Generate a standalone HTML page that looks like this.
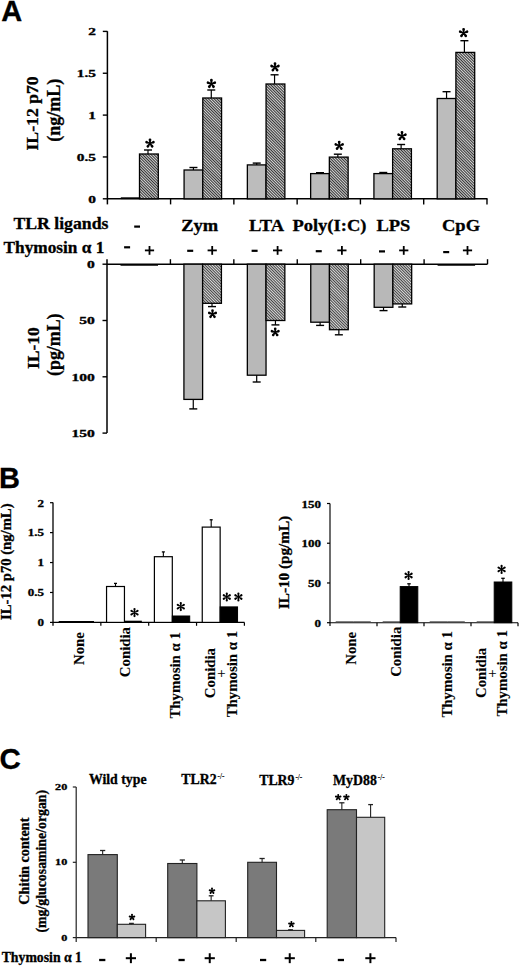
<!DOCTYPE html>
<html><head><meta charset="utf-8"><style>html,body{margin:0;padding:0;background:#fff;}svg{display:block}text{stroke:#000;stroke-width:0.3px;}</style></head>
<body><svg width="520" height="966" viewBox="0 0 520 966"><defs>
<pattern id="hatch" patternUnits="userSpaceOnUse" width="2" height="2" patternTransform="rotate(45)"><rect width="2" height="2" fill="#d4d4d4"/><rect y="0" width="2" height="0.95" fill="#2a2a2a"/></pattern>
<pattern id="hatch2" patternUnits="userSpaceOnUse" width="2" height="2" patternTransform="rotate(45)"><rect width="2" height="2" fill="#dadada"/><rect y="0" width="2" height="0.9" fill="#333"/></pattern>
<pattern id="gray" patternUnits="userSpaceOnUse" width="4" height="4"><rect width="4" height="4" fill="#bcbcbc"/></pattern>
</defs>
<rect width="520" height="966" fill="#fff"/>
<text x="1.2" y="20.8" font-family="Liberation Sans" font-weight="bold" font-size="29" text-anchor="start">A</text>
<text x="-1.1" y="487.7" font-family="Liberation Sans" font-weight="bold" font-size="29" text-anchor="start">B</text>
<text x="-0.6" y="768.6" font-family="Liberation Sans" font-weight="bold" font-size="29.5" text-anchor="start">C</text>
<line x1="107.4" y1="31.2" x2="107.4" y2="204.4" stroke="#000" stroke-width="1.5" stroke-linecap="butt"/>
<line x1="102.8" y1="31.4" x2="107.4" y2="31.4" stroke="#000" stroke-width="1.4" stroke-linecap="butt"/>
<text x="0" y="0" font-family="Liberation Serif" font-weight="bold" font-size="9.6" text-anchor="end" transform="translate(96,35.4) scale(1.6,1)">2</text>
<line x1="102.8" y1="73.25" x2="107.4" y2="73.25" stroke="#000" stroke-width="1.4" stroke-linecap="butt"/>
<text x="0" y="0" font-family="Liberation Serif" font-weight="bold" font-size="9.6" text-anchor="end" transform="translate(96,77.25) scale(1.6,1)">1.5</text>
<line x1="102.8" y1="115.1" x2="107.4" y2="115.1" stroke="#000" stroke-width="1.4" stroke-linecap="butt"/>
<text x="0" y="0" font-family="Liberation Serif" font-weight="bold" font-size="9.6" text-anchor="end" transform="translate(96,119.1) scale(1.6,1)">1</text>
<line x1="102.8" y1="156.95" x2="107.4" y2="156.95" stroke="#000" stroke-width="1.4" stroke-linecap="butt"/>
<text x="0" y="0" font-family="Liberation Serif" font-weight="bold" font-size="9.6" text-anchor="end" transform="translate(96,160.95) scale(1.6,1)">0.5</text>
<line x1="102.8" y1="198.8" x2="107.4" y2="198.8" stroke="#000" stroke-width="1.4" stroke-linecap="butt"/>
<text x="0" y="0" font-family="Liberation Serif" font-weight="bold" font-size="9.6" text-anchor="end" transform="translate(96,202.8) scale(1.6,1)">0</text>
<line x1="107.4" y1="198.8" x2="487.5" y2="198.8" stroke="#000" stroke-width="1.5" stroke-linecap="butt"/>
<line x1="170.58" y1="198.8" x2="170.58" y2="204.4" stroke="#000" stroke-width="1.4" stroke-linecap="butt"/>
<line x1="233.86" y1="198.8" x2="233.86" y2="204.4" stroke="#000" stroke-width="1.4" stroke-linecap="butt"/>
<line x1="297.14" y1="198.8" x2="297.14" y2="204.4" stroke="#000" stroke-width="1.4" stroke-linecap="butt"/>
<line x1="360.42" y1="198.8" x2="360.42" y2="204.4" stroke="#000" stroke-width="1.4" stroke-linecap="butt"/>
<line x1="423.7" y1="198.8" x2="423.7" y2="204.4" stroke="#000" stroke-width="1.4" stroke-linecap="butt"/>
<line x1="486.98" y1="198.8" x2="486.98" y2="204.4" stroke="#000" stroke-width="1.4" stroke-linecap="butt"/>
<line x1="120.8" y1="198.2" x2="139.5" y2="198.2" stroke="#000" stroke-width="1.8" stroke-linecap="butt"/>
<rect x="139.5" y="154" width="18.8" height="44.8" fill="url(#hatch)" stroke="#000" stroke-width="1.3"/>
<line x1="148" y1="154" x2="148" y2="150" stroke="#000" stroke-width="1.2" stroke-linecap="butt"/>
<line x1="144" y1="150" x2="152" y2="150" stroke="#000" stroke-width="1.4" stroke-linecap="butt"/>
<rect x="184.08" y="170" width="18.7" height="28.8" fill="url(#gray)" stroke="#000" stroke-width="1.3"/>
<line x1="193.43" y1="170" x2="193.43" y2="167.5" stroke="#000" stroke-width="1.2" stroke-linecap="butt"/>
<line x1="189.43" y1="167.5" x2="197.43" y2="167.5" stroke="#000" stroke-width="1.4" stroke-linecap="butt"/>
<rect x="202.78" y="98" width="18.8" height="100.8" fill="url(#hatch)" stroke="#000" stroke-width="1.3"/>
<line x1="211.28" y1="98" x2="211.28" y2="90" stroke="#000" stroke-width="1.2" stroke-linecap="butt"/>
<line x1="207.28" y1="90" x2="215.28" y2="90" stroke="#000" stroke-width="1.4" stroke-linecap="butt"/>
<rect x="247.36" y="164.9" width="18.7" height="33.9" fill="url(#gray)" stroke="#000" stroke-width="1.3"/>
<line x1="256.71" y1="164.9" x2="256.71" y2="163.1" stroke="#000" stroke-width="1.2" stroke-linecap="butt"/>
<line x1="252.71" y1="163.1" x2="260.71" y2="163.1" stroke="#000" stroke-width="1.4" stroke-linecap="butt"/>
<rect x="266.06" y="84" width="18.8" height="114.8" fill="url(#hatch)" stroke="#000" stroke-width="1.3"/>
<line x1="274.56" y1="84" x2="274.56" y2="74.8" stroke="#000" stroke-width="1.2" stroke-linecap="butt"/>
<line x1="270.56" y1="74.8" x2="278.56" y2="74.8" stroke="#000" stroke-width="1.4" stroke-linecap="butt"/>
<rect x="310.64" y="173.6" width="18.7" height="25.2" fill="url(#gray)" stroke="#000" stroke-width="1.3"/>
<line x1="319.99" y1="173.6" x2="319.99" y2="172.7" stroke="#000" stroke-width="1.2" stroke-linecap="butt"/>
<line x1="315.99" y1="172.7" x2="323.99" y2="172.7" stroke="#000" stroke-width="1.4" stroke-linecap="butt"/>
<rect x="329.34" y="157.1" width="18.8" height="41.7" fill="url(#hatch)" stroke="#000" stroke-width="1.3"/>
<line x1="337.84" y1="157.1" x2="337.84" y2="154.2" stroke="#000" stroke-width="1.2" stroke-linecap="butt"/>
<line x1="333.84" y1="154.2" x2="341.84" y2="154.2" stroke="#000" stroke-width="1.4" stroke-linecap="butt"/>
<rect x="373.92" y="173.6" width="18.7" height="25.2" fill="url(#gray)" stroke="#000" stroke-width="1.3"/>
<line x1="383.27" y1="173.6" x2="383.27" y2="172.5" stroke="#000" stroke-width="1.2" stroke-linecap="butt"/>
<line x1="379.27" y1="172.5" x2="387.27" y2="172.5" stroke="#000" stroke-width="1.4" stroke-linecap="butt"/>
<rect x="392.62" y="148.8" width="18.8" height="50" fill="url(#hatch)" stroke="#000" stroke-width="1.3"/>
<line x1="401.12" y1="148.8" x2="401.12" y2="144.5" stroke="#000" stroke-width="1.2" stroke-linecap="butt"/>
<line x1="397.12" y1="144.5" x2="405.12" y2="144.5" stroke="#000" stroke-width="1.4" stroke-linecap="butt"/>
<rect x="437.2" y="98.5" width="18.7" height="100.3" fill="url(#gray)" stroke="#000" stroke-width="1.3"/>
<line x1="446.55" y1="98.5" x2="446.55" y2="91.7" stroke="#000" stroke-width="1.2" stroke-linecap="butt"/>
<line x1="442.55" y1="91.7" x2="450.55" y2="91.7" stroke="#000" stroke-width="1.4" stroke-linecap="butt"/>
<rect x="455.9" y="52.4" width="18.8" height="146.4" fill="url(#hatch)" stroke="#000" stroke-width="1.3"/>
<line x1="464.4" y1="52.4" x2="464.4" y2="40.7" stroke="#000" stroke-width="1.2" stroke-linecap="butt"/>
<line x1="460.4" y1="40.7" x2="468.4" y2="40.7" stroke="#000" stroke-width="1.4" stroke-linecap="butt"/>
<path d="M149.52,143.35L148.61,139.8A1.39,1.39 0 1 1 151.39,139.8L150.48,143.35ZM149.85,142.89L152.95,140.93A1.39,1.39 0 1 1 153.81,143.58L150.15,143.81ZM150.39,143.07L153.21,145.41A1.39,1.39 0 1 1 150.96,147.04L149.61,143.63ZM150.39,143.63L149.04,147.04A1.39,1.39 0 1 1 146.79,145.41L149.61,143.07ZM149.85,143.81L146.19,143.58A1.39,1.39 0 1 1 147.05,140.93L150.15,142.89Z" fill="#000"/>
<circle cx="150" cy="143.35" r="0.77" fill="#000"/>
<path d="M210.92,83.8L210.01,80.25A1.39,1.39 0 1 1 212.79,80.25L211.88,83.8ZM211.25,83.34L214.35,81.38A1.39,1.39 0 1 1 215.21,84.03L211.55,84.26ZM211.79,83.52L214.61,85.86A1.39,1.39 0 1 1 212.36,87.49L211.01,84.08ZM211.79,84.08L210.44,87.49A1.39,1.39 0 1 1 208.19,85.86L211.01,83.52ZM211.25,84.26L207.59,84.03A1.39,1.39 0 1 1 208.45,81.38L211.55,83.34Z" fill="#000"/>
<circle cx="211.4" cy="83.8" r="0.77" fill="#000"/>
<path d="M274.52,67.15L273.61,63.6A1.39,1.39 0 1 1 276.39,63.6L275.48,67.15ZM274.85,66.69L277.95,64.73A1.39,1.39 0 1 1 278.81,67.38L275.15,67.61ZM275.39,66.87L278.21,69.21A1.39,1.39 0 1 1 275.96,70.84L274.61,67.43ZM275.39,67.43L274.04,70.84A1.39,1.39 0 1 1 271.79,69.21L274.61,66.87ZM274.85,67.61L271.19,67.38A1.39,1.39 0 1 1 272.05,64.73L275.15,66.69Z" fill="#000"/>
<circle cx="275" cy="67.15" r="0.77" fill="#000"/>
<path d="M338.72,145.6L337.81,142.05A1.39,1.39 0 1 1 340.59,142.05L339.68,145.6ZM339.05,145.14L342.15,143.18A1.39,1.39 0 1 1 343.01,145.83L339.35,146.06ZM339.59,145.32L342.41,147.66A1.39,1.39 0 1 1 340.16,149.29L338.81,145.88ZM339.59,145.88L338.24,149.29A1.39,1.39 0 1 1 335.99,147.66L338.81,145.32ZM339.05,146.06L335.39,145.83A1.39,1.39 0 1 1 336.25,143.18L339.35,145.14Z" fill="#000"/>
<circle cx="339.2" cy="145.6" r="0.77" fill="#000"/>
<path d="M401.52,135.85L400.61,132.3A1.39,1.39 0 1 1 403.39,132.3L402.48,135.85ZM401.85,135.39L404.95,133.43A1.39,1.39 0 1 1 405.81,136.08L402.15,136.31ZM402.39,135.57L405.21,137.91A1.39,1.39 0 1 1 402.96,139.54L401.61,136.13ZM402.39,136.13L401.04,139.54A1.39,1.39 0 1 1 398.79,137.91L401.61,135.57ZM401.85,136.31L398.19,136.08A1.39,1.39 0 1 1 399.05,133.43L402.15,135.39Z" fill="#000"/>
<circle cx="402" cy="135.85" r="0.77" fill="#000"/>
<path d="M463.12,32.85L462.21,29.3A1.39,1.39 0 1 1 464.99,29.3L464.08,32.85ZM463.45,32.39L466.55,30.43A1.39,1.39 0 1 1 467.41,33.08L463.75,33.31ZM463.99,32.57L466.81,34.91A1.39,1.39 0 1 1 464.56,36.54L463.21,33.13ZM463.99,33.13L462.64,36.54A1.39,1.39 0 1 1 460.39,34.91L463.21,32.57ZM463.45,33.31L459.79,33.08A1.39,1.39 0 1 1 460.65,30.43L463.75,32.39Z" fill="#000"/>
<circle cx="463.6" cy="32.85" r="0.77" fill="#000"/>
<text x="0" y="0" font-family="Liberation Serif" font-weight="bold" font-size="17.7" text-anchor="middle" transform="translate(38.4,113.4) rotate(-90)">IL-12 p70</text>
<text x="0" y="0" font-family="Liberation Serif" font-weight="bold" font-size="18.0" text-anchor="middle" transform="translate(60,110.3) rotate(-90)">(ng/mL)</text>
<text x="0" y="0" font-family="Liberation Serif" font-weight="bold" font-size="17.3" text-anchor="start" transform="translate(13.4,228.6) scale(1.025,1)">TLR ligands</text>
<text x="3.5" y="253.4" font-family="Liberation Serif" font-weight="bold" font-size="17.3" text-anchor="start">Thymosin α 1</text>
<rect x="134.2" y="225.5" width="5.8" height="2.2" fill="#000"/>
<text x="0" y="0" font-family="Liberation Serif" font-weight="bold" font-size="17.3" text-anchor="middle" transform="translate(199.75,230.6) scale(1.07,1)">Zym</text>
<text x="0" y="0" font-family="Liberation Serif" font-weight="bold" font-size="17.3" text-anchor="middle" transform="translate(266.6,230.6) scale(1.07,1)">LTA</text>
<text x="0" y="0" font-family="Liberation Serif" font-weight="bold" font-size="17.3" text-anchor="middle" transform="translate(329.4,230.6) scale(1.07,1)">Poly(I:C)</text>
<text x="0" y="0" font-family="Liberation Serif" font-weight="bold" font-size="17.3" text-anchor="middle" transform="translate(393.4,230.6) scale(1.07,1)">LPS</text>
<text x="0" y="0" font-family="Liberation Serif" font-weight="bold" font-size="17.3" text-anchor="middle" transform="translate(461,230.6) scale(1.07,1)">CpG</text>
<rect x="124.1" y="246.2" width="6" height="2.2" fill="#000"/>
<rect x="144.9" y="249.5" width="9.2" height="1.8" fill="#000"/>
<rect x="148.6" y="246" width="1.8" height="8.8" fill="#000"/>
<rect x="187.2" y="249.7" width="6" height="2.2" fill="#000"/>
<rect x="207.6" y="249.5" width="9.2" height="1.8" fill="#000"/>
<rect x="211.3" y="246" width="1.8" height="8.8" fill="#000"/>
<rect x="251.6" y="249.7" width="6" height="2.2" fill="#000"/>
<rect x="273" y="249.5" width="9.2" height="1.8" fill="#000"/>
<rect x="276.7" y="246" width="1.8" height="8.8" fill="#000"/>
<rect x="315.75" y="250.1" width="6" height="2.2" fill="#000"/>
<rect x="337.3" y="249.5" width="9.2" height="1.8" fill="#000"/>
<rect x="341" y="246" width="1.8" height="8.8" fill="#000"/>
<rect x="379" y="250.3" width="6" height="2.2" fill="#000"/>
<rect x="399.15" y="249.5" width="9.2" height="1.8" fill="#000"/>
<rect x="402.85" y="246" width="1.8" height="8.8" fill="#000"/>
<rect x="443.2" y="251" width="6" height="2.2" fill="#000"/>
<rect x="462.9" y="249.5" width="9.2" height="1.8" fill="#000"/>
<rect x="466.6" y="246" width="1.8" height="8.8" fill="#000"/>
<line x1="107" y1="259.2" x2="107" y2="433.1" stroke="#000" stroke-width="1.5" stroke-linecap="butt"/>
<line x1="102.5" y1="264.2" x2="107" y2="264.2" stroke="#000" stroke-width="1.4" stroke-linecap="butt"/>
<text x="0" y="0" font-family="Liberation Serif" font-weight="bold" font-size="9.6" text-anchor="end" transform="translate(94.7,268) scale(1.62,1)">0</text>
<line x1="102.5" y1="320.5" x2="107" y2="320.5" stroke="#000" stroke-width="1.4" stroke-linecap="butt"/>
<text x="0" y="0" font-family="Liberation Serif" font-weight="bold" font-size="9.6" text-anchor="end" transform="translate(94.7,324.3) scale(1.62,1)">50</text>
<line x1="102.5" y1="376.8" x2="107" y2="376.8" stroke="#000" stroke-width="1.4" stroke-linecap="butt"/>
<text x="0" y="0" font-family="Liberation Serif" font-weight="bold" font-size="9.6" text-anchor="end" transform="translate(94.7,380.6) scale(1.62,1)">100</text>
<line x1="102.5" y1="433.1" x2="107" y2="433.1" stroke="#000" stroke-width="1.4" stroke-linecap="butt"/>
<text x="0" y="0" font-family="Liberation Serif" font-weight="bold" font-size="9.6" text-anchor="end" transform="translate(94.7,436.9) scale(1.62,1)">150</text>
<line x1="107" y1="264.2" x2="487.5" y2="264.2" stroke="#000" stroke-width="1.5" stroke-linecap="butt"/>
<line x1="170.42" y1="259.2" x2="170.42" y2="264.2" stroke="#000" stroke-width="1.4" stroke-linecap="butt"/>
<line x1="233.84" y1="259.2" x2="233.84" y2="264.2" stroke="#000" stroke-width="1.4" stroke-linecap="butt"/>
<line x1="297.26" y1="259.2" x2="297.26" y2="264.2" stroke="#000" stroke-width="1.4" stroke-linecap="butt"/>
<line x1="360.68" y1="259.2" x2="360.68" y2="264.2" stroke="#000" stroke-width="1.4" stroke-linecap="butt"/>
<line x1="424.1" y1="259.2" x2="424.1" y2="264.2" stroke="#000" stroke-width="1.4" stroke-linecap="butt"/>
<line x1="487.52" y1="259.2" x2="487.52" y2="264.2" stroke="#000" stroke-width="1.4" stroke-linecap="butt"/>
<line x1="120.5" y1="264.8" x2="158" y2="264.8" stroke="#000" stroke-width="1.8" stroke-linecap="butt"/>
<rect x="183.92" y="264.2" width="18.7" height="135.2" fill="#b8b8b8" stroke="#000" stroke-width="1.3"/>
<line x1="193.27" y1="399.4" x2="193.27" y2="408.9" stroke="#000" stroke-width="1.2" stroke-linecap="butt"/>
<line x1="189.27" y1="408.9" x2="197.27" y2="408.9" stroke="#000" stroke-width="1.4" stroke-linecap="butt"/>
<rect x="202.62" y="264.2" width="18.8" height="39.1" fill="url(#hatch2)" stroke="#000" stroke-width="1.3"/>
<line x1="212.02" y1="303.3" x2="212.02" y2="306.6" stroke="#000" stroke-width="1.2" stroke-linecap="butt"/>
<line x1="208.02" y1="306.6" x2="216.02" y2="306.6" stroke="#000" stroke-width="1.4" stroke-linecap="butt"/>
<rect x="247.34" y="264.2" width="18.7" height="111" fill="#b8b8b8" stroke="#000" stroke-width="1.3"/>
<line x1="256.69" y1="375.2" x2="256.69" y2="382" stroke="#000" stroke-width="1.2" stroke-linecap="butt"/>
<line x1="252.69" y1="382" x2="260.69" y2="382" stroke="#000" stroke-width="1.4" stroke-linecap="butt"/>
<rect x="266.04" y="264.2" width="18.8" height="56.3" fill="url(#hatch2)" stroke="#000" stroke-width="1.3"/>
<line x1="275.44" y1="320.5" x2="275.44" y2="324.9" stroke="#000" stroke-width="1.2" stroke-linecap="butt"/>
<line x1="271.44" y1="324.9" x2="279.44" y2="324.9" stroke="#000" stroke-width="1.4" stroke-linecap="butt"/>
<rect x="310.76" y="264.2" width="18.7" height="58" fill="#b8b8b8" stroke="#000" stroke-width="1.3"/>
<line x1="320.11" y1="322.2" x2="320.11" y2="325.4" stroke="#000" stroke-width="1.2" stroke-linecap="butt"/>
<line x1="316.11" y1="325.4" x2="324.11" y2="325.4" stroke="#000" stroke-width="1.4" stroke-linecap="butt"/>
<rect x="329.46" y="264.2" width="18.8" height="65.5" fill="url(#hatch2)" stroke="#000" stroke-width="1.3"/>
<line x1="338.86" y1="329.7" x2="338.86" y2="334.8" stroke="#000" stroke-width="1.2" stroke-linecap="butt"/>
<line x1="334.86" y1="334.8" x2="342.86" y2="334.8" stroke="#000" stroke-width="1.4" stroke-linecap="butt"/>
<rect x="374.18" y="264.2" width="18.7" height="43.1" fill="#b8b8b8" stroke="#000" stroke-width="1.3"/>
<line x1="383.53" y1="307.3" x2="383.53" y2="310.6" stroke="#000" stroke-width="1.2" stroke-linecap="butt"/>
<line x1="379.53" y1="310.6" x2="387.53" y2="310.6" stroke="#000" stroke-width="1.4" stroke-linecap="butt"/>
<rect x="392.88" y="264.2" width="18.8" height="39.7" fill="url(#hatch2)" stroke="#000" stroke-width="1.3"/>
<line x1="402.28" y1="303.9" x2="402.28" y2="307" stroke="#000" stroke-width="1.2" stroke-linecap="butt"/>
<line x1="398.28" y1="307" x2="406.28" y2="307" stroke="#000" stroke-width="1.4" stroke-linecap="butt"/>
<line x1="437.6" y1="264.8" x2="475.1" y2="264.8" stroke="#000" stroke-width="1.8" stroke-linecap="butt"/>
<path d="M212.04,314L211.17,310.6A1.33,1.33 0 1 1 213.83,310.6L212.96,314ZM212.36,313.56L215.33,311.68A1.33,1.33 0 1 1 216.15,314.22L212.64,314.44ZM212.87,313.73L215.58,315.97A1.33,1.33 0 1 1 213.42,317.54L212.13,314.27ZM212.87,314.27L211.58,317.54A1.33,1.33 0 1 1 209.42,315.97L212.13,313.73ZM212.36,314.44L208.85,314.22A1.33,1.33 0 1 1 209.67,311.68L212.64,313.56Z" fill="#000"/>
<circle cx="212.5" cy="314" r="0.74" fill="#000"/>
<path d="M274.74,332.2L273.87,328.8A1.33,1.33 0 1 1 276.53,328.8L275.66,332.2ZM275.06,331.76L278.03,329.88A1.33,1.33 0 1 1 278.85,332.42L275.34,332.64ZM275.57,331.93L278.28,334.17A1.33,1.33 0 1 1 276.12,335.74L274.83,332.47ZM275.57,332.47L274.28,335.74A1.33,1.33 0 1 1 272.12,334.17L274.83,331.93ZM275.06,332.64L271.55,332.42A1.33,1.33 0 1 1 272.37,329.88L275.34,331.76Z" fill="#000"/>
<circle cx="275.2" cy="332.2" r="0.74" fill="#000"/>
<text x="0" y="0" font-family="Liberation Serif" font-weight="bold" font-size="17.6" text-anchor="middle" transform="translate(39.3,348.1) rotate(-90)">IL-10</text>
<text x="0" y="0" font-family="Liberation Serif" font-weight="bold" font-size="17.85" text-anchor="middle" transform="translate(60,344.7) rotate(-90)">(pg/mL)</text>
<line x1="53" y1="502.5" x2="53" y2="625.8" stroke="#000" stroke-width="1.3" stroke-linecap="butt"/>
<line x1="50" y1="502.7" x2="53" y2="502.7" stroke="#000" stroke-width="1.2" stroke-linecap="butt"/>
<text x="0" y="0" font-family="Liberation Serif" font-weight="bold" font-size="10.2" text-anchor="end" transform="translate(44,506.5) scale(1.28,1)">2</text>
<line x1="50" y1="532.62" x2="53" y2="532.62" stroke="#000" stroke-width="1.2" stroke-linecap="butt"/>
<text x="0" y="0" font-family="Liberation Serif" font-weight="bold" font-size="10.2" text-anchor="end" transform="translate(44,536.42) scale(1.28,1)">1.5</text>
<line x1="50" y1="562.55" x2="53" y2="562.55" stroke="#000" stroke-width="1.2" stroke-linecap="butt"/>
<text x="0" y="0" font-family="Liberation Serif" font-weight="bold" font-size="10.2" text-anchor="end" transform="translate(44,566.35) scale(1.28,1)">1</text>
<line x1="50" y1="592.48" x2="53" y2="592.48" stroke="#000" stroke-width="1.2" stroke-linecap="butt"/>
<text x="0" y="0" font-family="Liberation Serif" font-weight="bold" font-size="10.2" text-anchor="end" transform="translate(44,596.27) scale(1.28,1)">0.5</text>
<line x1="50" y1="622.4" x2="53" y2="622.4" stroke="#000" stroke-width="1.2" stroke-linecap="butt"/>
<text x="0" y="0" font-family="Liberation Serif" font-weight="bold" font-size="10.2" text-anchor="end" transform="translate(44,626.2) scale(1.28,1)">0</text>
<line x1="53" y1="622.4" x2="244.5" y2="622.4" stroke="#000" stroke-width="1.3" stroke-linecap="butt"/>
<line x1="100.85" y1="622.4" x2="100.85" y2="625.8" stroke="#000" stroke-width="1.2" stroke-linecap="butt"/>
<line x1="148.7" y1="622.4" x2="148.7" y2="625.8" stroke="#000" stroke-width="1.2" stroke-linecap="butt"/>
<line x1="196.55" y1="622.4" x2="196.55" y2="625.8" stroke="#000" stroke-width="1.2" stroke-linecap="butt"/>
<line x1="244.4" y1="622.4" x2="244.4" y2="625.8" stroke="#000" stroke-width="1.2" stroke-linecap="butt"/>
<line x1="58.7" y1="621.8" x2="94" y2="621.8" stroke="#000" stroke-width="1.6" stroke-linecap="butt"/>
<rect x="106.55" y="586.5" width="17.9" height="35.9" fill="#fff" stroke="#000" stroke-width="1.2"/>
<line x1="115.5" y1="586.5" x2="115.5" y2="583.4" stroke="#000" stroke-width="1.1" stroke-linecap="butt"/>
<line x1="114" y1="583.4" x2="117" y2="583.4" stroke="#000" stroke-width="1.3" stroke-linecap="butt"/>
<line x1="124.45" y1="621.6" x2="141.85" y2="621.6" stroke="#000" stroke-width="1.8" stroke-linecap="butt"/>
<rect x="154.4" y="556.7" width="17.9" height="65.7" fill="#fff" stroke="#000" stroke-width="1.2"/>
<line x1="163.35" y1="556.7" x2="163.35" y2="551.9" stroke="#000" stroke-width="1.1" stroke-linecap="butt"/>
<line x1="161.85" y1="551.9" x2="164.85" y2="551.9" stroke="#000" stroke-width="1.3" stroke-linecap="butt"/>
<rect x="172.3" y="616" width="17.4" height="6.4" fill="#000" stroke="#000" stroke-width="1"/>
<rect x="202.25" y="527.1" width="17.9" height="95.3" fill="#fff" stroke="#000" stroke-width="1.2"/>
<line x1="211.2" y1="527.1" x2="211.2" y2="519.8" stroke="#000" stroke-width="1.1" stroke-linecap="butt"/>
<line x1="209.7" y1="519.8" x2="212.7" y2="519.8" stroke="#000" stroke-width="1.3" stroke-linecap="butt"/>
<rect x="220.15" y="606.9" width="17.4" height="15.5" fill="#000" stroke="#000" stroke-width="1"/>
<path d="M134.13,612.6L133.4,609.1A1.1,1.1 0 1 1 135.6,609.1L134.87,612.6ZM134.32,612.28L136.98,609.9A1.1,1.1 0 1 1 138.08,611.81L134.68,612.92ZM134.68,612.28L138.08,613.39A1.1,1.1 0 1 1 136.98,615.3L134.32,612.92ZM134.87,612.6L135.6,616.1A1.1,1.1 0 1 1 133.4,616.1L134.13,612.6ZM134.68,612.92L132.02,615.3A1.1,1.1 0 1 1 130.92,613.39L134.32,612.28ZM134.32,612.92L130.92,611.81A1.1,1.1 0 1 1 132.02,609.9L134.68,612.28Z" fill="#000"/>
<circle cx="134.5" cy="612.6" r="0.46" fill="#000"/>
<path d="M180.43,606.6L179.7,603.1A1.1,1.1 0 1 1 181.9,603.1L181.17,606.6ZM180.62,606.28L183.28,603.9A1.1,1.1 0 1 1 184.38,605.81L180.98,606.92ZM180.98,606.28L184.38,607.39A1.1,1.1 0 1 1 183.28,609.3L180.62,606.92ZM181.17,606.6L181.9,610.1A1.1,1.1 0 1 1 179.7,610.1L180.43,606.6ZM180.98,606.92L178.32,609.3A1.1,1.1 0 1 1 177.22,607.39L180.62,606.28ZM180.62,606.92L177.22,605.81A1.1,1.1 0 1 1 178.32,603.9L180.98,606.28Z" fill="#000"/>
<circle cx="180.8" cy="606.6" r="0.46" fill="#000"/>
<path d="M226.43,597L225.7,593.5A1.1,1.1 0 1 1 227.9,593.5L227.17,597ZM226.62,596.68L229.28,594.3A1.1,1.1 0 1 1 230.38,596.21L226.98,597.32ZM226.98,596.68L230.38,597.79A1.1,1.1 0 1 1 229.28,599.7L226.62,597.32ZM227.17,597L227.9,600.5A1.1,1.1 0 1 1 225.7,600.5L226.43,597ZM226.98,597.32L224.32,599.7A1.1,1.1 0 1 1 223.22,597.79L226.62,596.68ZM226.62,597.32L223.22,596.21A1.1,1.1 0 1 1 224.32,594.3L226.98,596.68Z" fill="#000"/>
<circle cx="226.8" cy="597" r="0.46" fill="#000"/>
<path d="M238.03,597L237.3,593.5A1.1,1.1 0 1 1 239.5,593.5L238.77,597ZM238.22,596.68L240.88,594.3A1.1,1.1 0 1 1 241.98,596.21L238.58,597.32ZM238.58,596.68L241.98,597.79A1.1,1.1 0 1 1 240.88,599.7L238.22,597.32ZM238.77,597L239.5,600.5A1.1,1.1 0 1 1 237.3,600.5L238.03,597ZM238.58,597.32L235.92,599.7A1.1,1.1 0 1 1 234.82,597.79L238.22,596.68ZM238.22,597.32L234.82,596.21A1.1,1.1 0 1 1 235.92,594.3L238.58,596.68Z" fill="#000"/>
<circle cx="238.4" cy="597" r="0.46" fill="#000"/>
<text x="0" y="0" font-family="Liberation Serif" font-weight="bold" font-size="14.67" text-anchor="middle" transform="translate(11.2,561.7) rotate(-90)">IL-12 p70 (ng/mL)</text>
<text x="0" y="0" font-family="Liberation Serif" font-weight="bold" font-size="14.8" text-anchor="end" transform="translate(83.6,632.1) rotate(-90)" style="stroke-width:0.12px">None</text>
<text x="0" y="0" font-family="Liberation Serif" font-weight="bold" font-size="14.8" text-anchor="end" transform="translate(129.6,627) rotate(-90)" style="stroke-width:0.12px">Conidia</text>
<text x="0" y="0" font-family="Liberation Serif" font-weight="bold" font-size="14.8" text-anchor="end" transform="translate(180.3,632.2) rotate(-90)" style="stroke-width:0.12px">Thymosin α 1</text>
<text x="0" y="0" font-family="Liberation Serif" font-weight="bold" font-size="14.8" text-anchor="middle" transform="translate(215.2,673.1) rotate(-90)" style="stroke-width:0.12px">Conidia</text>
<text x="0" y="0" font-family="Liberation Serif" font-weight="normal" font-size="14.8" text-anchor="middle" transform="translate(225.5,673.5) rotate(-90)" style="stroke-width:0.12px">+</text>
<text x="0" y="0" font-family="Liberation Serif" font-weight="bold" font-size="14.8" text-anchor="middle" transform="translate(236.9,674.15) rotate(-90)" style="stroke-width:0.12px">Thymosin α 1</text>
<line x1="330" y1="503.5" x2="330" y2="626" stroke="#000" stroke-width="1.15" stroke-linecap="butt"/>
<line x1="327" y1="622.7" x2="330" y2="622.7" stroke="#000" stroke-width="1.2" stroke-linecap="butt"/>
<text x="0" y="0" font-family="Liberation Serif" font-weight="bold" font-size="10.2" text-anchor="end" transform="translate(321,626.7) scale(1.28,1)">0</text>
<line x1="327" y1="582.97" x2="330" y2="582.97" stroke="#000" stroke-width="1.2" stroke-linecap="butt"/>
<text x="0" y="0" font-family="Liberation Serif" font-weight="bold" font-size="10.2" text-anchor="end" transform="translate(321,586.97) scale(1.28,1)">50</text>
<line x1="327" y1="543.23" x2="330" y2="543.23" stroke="#000" stroke-width="1.2" stroke-linecap="butt"/>
<text x="0" y="0" font-family="Liberation Serif" font-weight="bold" font-size="10.2" text-anchor="end" transform="translate(321,547.23) scale(1.28,1)">100</text>
<line x1="327" y1="503.5" x2="330" y2="503.5" stroke="#000" stroke-width="1.2" stroke-linecap="butt"/>
<text x="0" y="0" font-family="Liberation Serif" font-weight="bold" font-size="10.2" text-anchor="end" transform="translate(321,507.5) scale(1.28,1)">150</text>
<line x1="330" y1="622.7" x2="518" y2="622.7" stroke="#000" stroke-width="1.15" stroke-linecap="butt"/>
<line x1="377" y1="622.7" x2="377" y2="626.3" stroke="#000" stroke-width="1.2" stroke-linecap="butt"/>
<line x1="424" y1="622.7" x2="424" y2="626.3" stroke="#000" stroke-width="1.2" stroke-linecap="butt"/>
<line x1="471" y1="622.7" x2="471" y2="626.3" stroke="#000" stroke-width="1.2" stroke-linecap="butt"/>
<line x1="518" y1="622.7" x2="518" y2="626.3" stroke="#000" stroke-width="1.2" stroke-linecap="butt"/>
<line x1="335.7" y1="621.7" x2="353.2" y2="621.7" stroke="#555" stroke-width="0.9" stroke-linecap="butt"/>
<line x1="353.2" y1="621.7" x2="370.8" y2="621.7" stroke="#555" stroke-width="0.9" stroke-linecap="butt"/>
<line x1="382.7" y1="621.7" x2="400.2" y2="621.7" stroke="#555" stroke-width="0.9" stroke-linecap="butt"/>
<rect x="400.2" y="586.6" width="17.6" height="36.1" fill="#000" stroke="#000" stroke-width="1"/>
<line x1="409" y1="586.6" x2="409" y2="583.8" stroke="#000" stroke-width="1.1" stroke-linecap="butt"/>
<line x1="407.25" y1="583.8" x2="410.75" y2="583.8" stroke="#000" stroke-width="1.3" stroke-linecap="butt"/>
<line x1="429.7" y1="621.7" x2="447.2" y2="621.7" stroke="#555" stroke-width="0.9" stroke-linecap="butt"/>
<line x1="447.2" y1="621.7" x2="464.8" y2="621.7" stroke="#555" stroke-width="0.9" stroke-linecap="butt"/>
<line x1="476.7" y1="621.7" x2="494.2" y2="621.7" stroke="#555" stroke-width="0.9" stroke-linecap="butt"/>
<rect x="494.2" y="582" width="17.6" height="40.7" fill="#000" stroke="#000" stroke-width="1"/>
<line x1="503" y1="582" x2="503" y2="578.3" stroke="#000" stroke-width="1.1" stroke-linecap="butt"/>
<line x1="501.25" y1="578.3" x2="504.75" y2="578.3" stroke="#000" stroke-width="1.3" stroke-linecap="butt"/>
<path d="M408.23,575.5L407.5,572A1.1,1.1 0 1 1 409.7,572L408.97,575.5ZM408.42,575.18L411.08,572.8A1.1,1.1 0 1 1 412.18,574.71L408.78,575.82ZM408.78,575.18L412.18,576.29A1.1,1.1 0 1 1 411.08,578.2L408.42,575.82ZM408.97,575.5L409.7,579A1.1,1.1 0 1 1 407.5,579L408.23,575.5ZM408.78,575.82L406.12,578.2A1.1,1.1 0 1 1 405.02,576.29L408.42,575.18ZM408.42,575.82L405.02,574.71A1.1,1.1 0 1 1 406.12,572.8L408.78,575.18Z" fill="#000"/>
<circle cx="408.6" cy="575.5" r="0.46" fill="#000"/>
<path d="M501.23,569.4L500.5,565.9A1.1,1.1 0 1 1 502.7,565.9L501.97,569.4ZM501.42,569.08L504.08,566.7A1.1,1.1 0 1 1 505.18,568.61L501.78,569.72ZM501.78,569.08L505.18,570.19A1.1,1.1 0 1 1 504.08,572.1L501.42,569.72ZM501.97,569.4L502.7,572.9A1.1,1.1 0 1 1 500.5,572.9L501.23,569.4ZM501.78,569.72L499.12,572.1A1.1,1.1 0 1 1 498.02,570.19L501.42,569.08ZM501.42,569.72L498.02,568.61A1.1,1.1 0 1 1 499.12,566.7L501.78,569.08Z" fill="#000"/>
<circle cx="501.6" cy="569.4" r="0.46" fill="#000"/>
<text x="0" y="0" font-family="Liberation Serif" font-weight="bold" font-size="15.18" text-anchor="middle" transform="translate(289,562.5) rotate(-90)">IL-10 (pg/mL)</text>
<text x="0" y="0" font-family="Liberation Serif" font-weight="bold" font-size="14.8" text-anchor="end" transform="translate(355.6,631.9) rotate(-90)" style="stroke-width:0.12px">None</text>
<text x="0" y="0" font-family="Liberation Serif" font-weight="bold" font-size="14.8" text-anchor="end" transform="translate(400.8,626.7) rotate(-90)" style="stroke-width:0.12px">Conidia</text>
<text x="0" y="0" font-family="Liberation Serif" font-weight="bold" font-size="14.8" text-anchor="end" transform="translate(451.5,631.2) rotate(-90)" style="stroke-width:0.12px">Thymosin α 1</text>
<text x="0" y="0" font-family="Liberation Serif" font-weight="bold" font-size="14.8" text-anchor="middle" transform="translate(486.4,672.9) rotate(-90)" style="stroke-width:0.12px">Conidia</text>
<text x="0" y="0" font-family="Liberation Serif" font-weight="normal" font-size="14.8" text-anchor="middle" transform="translate(496.5,673.7) rotate(-90)" style="stroke-width:0.12px">+</text>
<text x="0" y="0" font-family="Liberation Serif" font-weight="bold" font-size="14.8" text-anchor="middle" transform="translate(507.4,673.4) rotate(-90)" style="stroke-width:0.12px">Thymosin α 1</text>
<line x1="76.2" y1="787" x2="76.2" y2="942" stroke="#222" stroke-width="1.2" stroke-linecap="butt"/>
<line x1="72.8" y1="937.6" x2="76.2" y2="937.6" stroke="#222" stroke-width="1.2" stroke-linecap="butt"/>
<text x="0" y="0" font-family="Liberation Serif" font-weight="bold" font-size="8.6" text-anchor="end" transform="translate(67.3,940.5) scale(1.42,1)">0</text>
<line x1="72.8" y1="862.3" x2="76.2" y2="862.3" stroke="#222" stroke-width="1.2" stroke-linecap="butt"/>
<text x="0" y="0" font-family="Liberation Serif" font-weight="bold" font-size="8.6" text-anchor="end" transform="translate(67.3,865.2) scale(1.42,1)">10</text>
<line x1="72.8" y1="787" x2="76.2" y2="787" stroke="#222" stroke-width="1.2" stroke-linecap="butt"/>
<text x="0" y="0" font-family="Liberation Serif" font-weight="bold" font-size="8.6" text-anchor="end" transform="translate(67.3,789.9) scale(1.42,1)">20</text>
<line x1="76.2" y1="937.6" x2="396" y2="937.6" stroke="#222" stroke-width="1.2" stroke-linecap="butt"/>
<line x1="156.2" y1="937.6" x2="156.2" y2="942" stroke="#222" stroke-width="1.2" stroke-linecap="butt"/>
<line x1="236.2" y1="937.6" x2="236.2" y2="942" stroke="#222" stroke-width="1.2" stroke-linecap="butt"/>
<line x1="315.8" y1="937.6" x2="315.8" y2="942" stroke="#222" stroke-width="1.2" stroke-linecap="butt"/>
<line x1="396" y1="937.6" x2="396" y2="942" stroke="#222" stroke-width="1.2" stroke-linecap="butt"/>
<rect x="88" y="854.6" width="29.3" height="83" fill="#7a7a7a" stroke="#222" stroke-width="1.1"/>
<line x1="102.65" y1="854.6" x2="102.65" y2="850.5" stroke="#222" stroke-width="1.1" stroke-linecap="butt"/>
<line x1="100.05" y1="850.5" x2="105.25" y2="850.5" stroke="#222" stroke-width="1.3" stroke-linecap="butt"/>
<rect x="117.3" y="924.3" width="28.3" height="13.3" fill="#c6c6c6" stroke="#222" stroke-width="1.1"/>
<line x1="131.45" y1="924.3" x2="131.45" y2="923.4" stroke="#222" stroke-width="1.1" stroke-linecap="butt"/>
<line x1="129.05" y1="923.4" x2="133.85" y2="923.4" stroke="#222" stroke-width="1.3" stroke-linecap="butt"/>
<rect x="167.7" y="863.5" width="29.2" height="74.1" fill="#7a7a7a" stroke="#222" stroke-width="1.1"/>
<line x1="182.3" y1="863.5" x2="182.3" y2="860" stroke="#222" stroke-width="1.1" stroke-linecap="butt"/>
<line x1="179.7" y1="860" x2="184.9" y2="860" stroke="#222" stroke-width="1.3" stroke-linecap="butt"/>
<rect x="196.9" y="900.8" width="28.5" height="36.8" fill="#c6c6c6" stroke="#222" stroke-width="1.1"/>
<line x1="211.15" y1="900.8" x2="211.15" y2="895.8" stroke="#222" stroke-width="1.1" stroke-linecap="butt"/>
<line x1="208.75" y1="895.8" x2="213.55" y2="895.8" stroke="#222" stroke-width="1.3" stroke-linecap="butt"/>
<rect x="247.7" y="862.3" width="28.8" height="75.3" fill="#7a7a7a" stroke="#222" stroke-width="1.1"/>
<line x1="262.1" y1="862.3" x2="262.1" y2="858.5" stroke="#222" stroke-width="1.1" stroke-linecap="butt"/>
<line x1="259.5" y1="858.5" x2="264.7" y2="858.5" stroke="#222" stroke-width="1.3" stroke-linecap="butt"/>
<rect x="276.5" y="930.4" width="28.1" height="7.2" fill="#c6c6c6" stroke="#222" stroke-width="1.1"/>
<line x1="290.55" y1="930.4" x2="290.55" y2="929.8" stroke="#222" stroke-width="1.1" stroke-linecap="butt"/>
<line x1="288.15" y1="929.8" x2="292.95" y2="929.8" stroke="#222" stroke-width="1.3" stroke-linecap="butt"/>
<rect x="327.2" y="809.7" width="29.3" height="127.9" fill="#7a7a7a" stroke="#222" stroke-width="1.1"/>
<line x1="341.85" y1="809.7" x2="341.85" y2="802.8" stroke="#222" stroke-width="1.1" stroke-linecap="butt"/>
<line x1="339.25" y1="802.8" x2="344.45" y2="802.8" stroke="#222" stroke-width="1.3" stroke-linecap="butt"/>
<rect x="356.5" y="817.3" width="28.2" height="120.3" fill="#c6c6c6" stroke="#222" stroke-width="1.1"/>
<line x1="370.6" y1="817.3" x2="370.6" y2="804.6" stroke="#222" stroke-width="1.1" stroke-linecap="butt"/>
<line x1="368.2" y1="804.6" x2="373" y2="804.6" stroke="#222" stroke-width="1.3" stroke-linecap="butt"/>
<path d="M131.54,917.2L131.01,914.79A0.99,0.99 0 1 1 132.99,914.79L132.46,917.2ZM131.86,916.76L133.99,915.51A0.99,0.99 0 1 1 134.6,917.4L132.14,917.64ZM132.37,916.93L134.22,918.57A0.99,0.99 0 1 1 132.62,919.73L131.63,917.47ZM132.37,917.47L131.38,919.73A0.99,0.99 0 1 1 129.78,918.57L131.63,916.93ZM131.86,917.64L129.4,917.4A0.99,0.99 0 1 1 130.01,915.51L132.14,916.76Z" fill="#000"/>
<circle cx="132" cy="917.2" r="0.66" fill="#000"/>
<path d="M211.54,891L211.01,888.59A0.99,0.99 0 1 1 212.99,888.59L212.46,891ZM211.86,890.56L213.99,889.31A0.99,0.99 0 1 1 214.6,891.2L212.14,891.44ZM212.37,890.73L214.22,892.37A0.99,0.99 0 1 1 212.62,893.53L211.63,891.27ZM212.37,891.27L211.38,893.53A0.99,0.99 0 1 1 209.78,892.37L211.63,890.73ZM211.86,891.44L209.4,891.2A0.99,0.99 0 1 1 210.01,889.31L212.14,890.56Z" fill="#000"/>
<circle cx="212" cy="891" r="0.66" fill="#000"/>
<path d="M290.94,924.3L290.41,921.89A0.99,0.99 0 1 1 292.39,921.89L291.86,924.3ZM291.26,923.86L293.39,922.61A0.99,0.99 0 1 1 294,924.5L291.54,924.74ZM291.77,924.03L293.62,925.67A0.99,0.99 0 1 1 292.02,926.83L291.03,924.57ZM291.77,924.57L290.78,926.83A0.99,0.99 0 1 1 289.18,925.67L291.03,924.03ZM291.26,924.74L288.8,924.5A0.99,0.99 0 1 1 289.41,922.61L291.54,923.86Z" fill="#000"/>
<circle cx="291.4" cy="924.3" r="0.66" fill="#000"/>
<path d="M337.74,797.3L337.21,794.89A0.99,0.99 0 1 1 339.19,794.89L338.66,797.3ZM338.06,796.86L340.19,795.61A0.99,0.99 0 1 1 340.8,797.5L338.34,797.74ZM338.57,797.03L340.42,798.67A0.99,0.99 0 1 1 338.82,799.83L337.83,797.57ZM338.57,797.57L337.58,799.83A0.99,0.99 0 1 1 335.98,798.67L337.83,797.03ZM338.06,797.74L335.6,797.5A0.99,0.99 0 1 1 336.21,795.61L338.34,796.86Z" fill="#000"/>
<circle cx="338.2" cy="797.3" r="0.66" fill="#000"/>
<path d="M345.94,797.3L345.41,794.89A0.99,0.99 0 1 1 347.39,794.89L346.86,797.3ZM346.26,796.86L348.39,795.61A0.99,0.99 0 1 1 349,797.5L346.54,797.74ZM346.77,797.03L348.62,798.67A0.99,0.99 0 1 1 347.02,799.83L346.03,797.57ZM346.77,797.57L345.78,799.83A0.99,0.99 0 1 1 344.18,798.67L346.03,797.03ZM346.26,797.74L343.8,797.5A0.99,0.99 0 1 1 344.41,795.61L346.54,796.86Z" fill="#000"/>
<circle cx="346.4" cy="797.3" r="0.66" fill="#000"/>
<text x="117.7" y="783.8" font-family="Liberation Serif" font-weight="bold" font-size="13.8" text-anchor="middle">Wild type</text>
<text x="181.3" y="783.6" font-family="Liberation Serif" font-weight="bold" font-size="13.8" text-anchor="start">TLR2<tspan font-size="7.2" dx="1" dy="-5.0" font-weight="normal" style="stroke-width:0.15px">-/-</tspan></text>
<text x="259.2" y="785.3" font-family="Liberation Serif" font-weight="bold" font-size="13.8" text-anchor="start">TLR9<tspan font-size="7.2" dx="1" dy="-5.0" font-weight="normal" style="stroke-width:0.15px">-/-</tspan></text>
<text x="333.1" y="785.2" font-family="Liberation Serif" font-weight="bold" font-size="13.8" text-anchor="start">MyD88<tspan font-size="7.2" dx="1" dy="-5.0" font-weight="normal" style="stroke-width:0.15px">-/-</tspan></text>
<text x="0" y="0" font-family="Liberation Serif" font-weight="bold" font-size="14.2" text-anchor="middle" transform="translate(29.4,861.1) rotate(-90)">Chitin content</text>
<text x="0" y="0" font-family="Liberation Serif" font-weight="bold" font-size="13.8" text-anchor="middle" transform="translate(46,861.2) rotate(-90)">(mg/glucosamine/organ)</text>
<text x="1.7" y="961.8" font-family="Liberation Serif" font-weight="bold" font-size="13.76" text-anchor="start">Thymosin α 1</text>
<rect x="99.15" y="958.85" width="6.2" height="2.3" fill="#000"/>
<rect x="125.8" y="957.2" width="10.2" height="2" fill="#000"/>
<rect x="129.9" y="953.25" width="2" height="9.9" fill="#000"/>
<rect x="178.5" y="958.85" width="6.2" height="2.3" fill="#000"/>
<rect x="204.65" y="957.2" width="10.2" height="2" fill="#000"/>
<rect x="208.75" y="953.25" width="2" height="9.9" fill="#000"/>
<rect x="260" y="958.85" width="6.2" height="2.3" fill="#000"/>
<rect x="284.65" y="957.2" width="10.2" height="2" fill="#000"/>
<rect x="288.75" y="953.25" width="2" height="9.9" fill="#000"/>
<rect x="337.8" y="958.85" width="6.2" height="2.3" fill="#000"/>
<rect x="365.3" y="957.2" width="10.2" height="2" fill="#000"/>
<rect x="369.4" y="953.25" width="2" height="9.9" fill="#000"/>
</svg></body></html>
